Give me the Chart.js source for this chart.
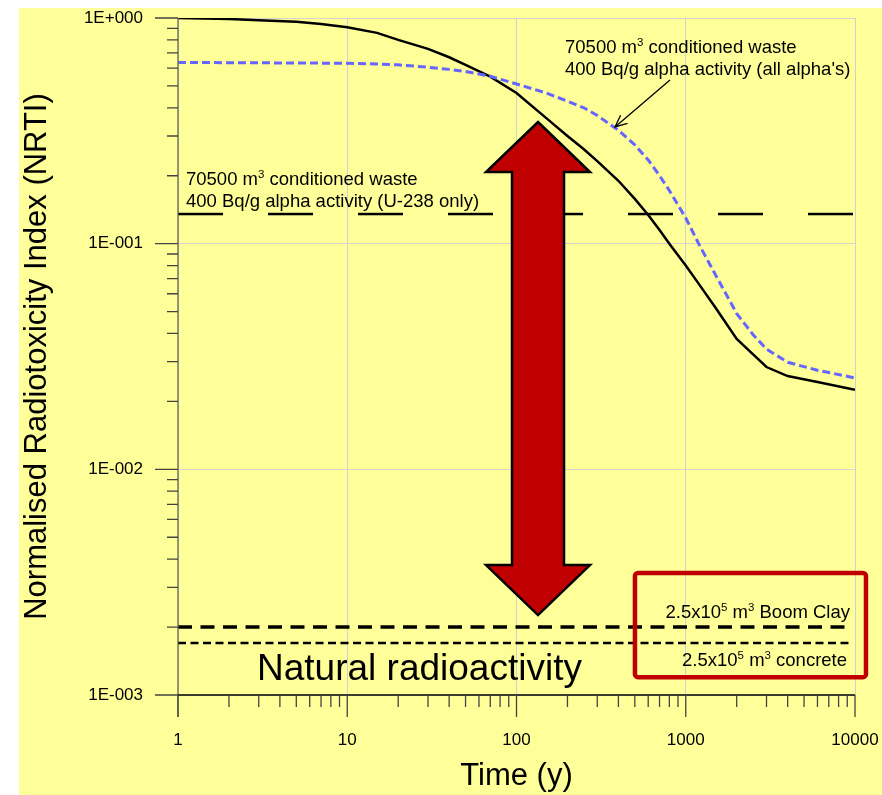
<!DOCTYPE html>
<html>
<head>
<meta charset="utf-8">
<script src="https://cdn.jsdelivr.net/npm/chart.js@4/dist/chart.umd.min.js"></script>
<style>
  html, body { margin: 0; padding: 0; background: #fff; }
  canvas { display: block; }
</style>
</head>
<body>
<canvas id="chart" width="882" height="795"></canvas>
<script>
// time axis (years) and the two decay curves
const years = [1, 2, 3, 5, 7, 10, 15, 20, 30, 40, 50, 70, 100, 150, 200, 250, 300, 400, 500, 600, 700, 800, 1000, 1200, 1500, 2000, 2500, 3000, 4000, 6000, 10000];
const nrtiSolid = [1.0, 0.99, 0.978, 0.963, 0.94, 0.91, 0.859, 0.80, 0.73, 0.67, 0.62, 0.55, 0.465, 0.36, 0.30, 0.262, 0.232, 0.19, 0.158, 0.134, 0.115, 0.1, 0.08, 0.066, 0.052, 0.0378, 0.0323, 0.0284, 0.0259, 0.0244, 0.0225];
const nrtiAllAlpha = [0.635, 0.634, 0.633, 0.632, 0.631, 0.63, 0.626, 0.62, 0.605, 0.592, 0.58, 0.552, 0.51, 0.465, 0.428, 0.40, 0.37, 0.318, 0.274, 0.235, 0.200, 0.172, 0.13, 0.099, 0.0727, 0.049, 0.0395, 0.0341, 0.0298, 0.0275, 0.0254];

// constant levels
const u238Level = 0.1353;
const boomClayLevel = 0.002;
const concreteLevel = 0.0017;
const fullSpan = [1, 10000];
const naturalSpan = [1, 9700];

// ticks
const xTicks = [1, 10, 100, 1000, 10000];
const xTickLabels = ['1', '10', '100', '1000', '10000'];
const yTicks = [0.001, 0.01, 0.1, 1];
const yTickLabels = ['1E-003', '1E-002', '1E-001', '1E+000'];

const FONT = 'Arial, "Liberation Sans", sans-serif';

function level(v, span) {
  return span.map(x => ({ x: x, y: v }));
}

// text with '^' marking a one-character superscript
function richText(ctx, str, x, y, size, align) {
  const parts = [];
  for (let i = 0; i < str.length; i++) {
    if (str[i] === '^') {
      parts.push({ t: str[i + 1], sup: true });
      i++;
    } else if (parts.length && !parts[parts.length - 1].sup) {
      parts[parts.length - 1].t += str[i];
    } else {
      parts.push({ t: str[i], sup: false });
    }
  }
  const supSize = size * 0.62;
  let w = 0;
  parts.forEach(p => {
    ctx.font = (p.sup ? supSize : size) + 'px ' + FONT;
    p.w = ctx.measureText(p.t).width;
    w += p.w;
  });
  let cx = align === 'right' ? x - w : x;
  ctx.textAlign = 'left';
  ctx.textBaseline = 'alphabetic';
  ctx.fillStyle = '#000';
  parts.forEach(p => {
    ctx.font = (p.sup ? supSize : size) + 'px ' + FONT;
    ctx.fillText(p.t, cx, p.sup ? y - size * 0.36 : y);
    cx += p.w;
  });
}

const annotations = {
  id: 'annotations',
  beforeDraw(chart) {
    const ctx = chart.ctx;
    ctx.save();
    ctx.fillStyle = '#ffff99';
    ctx.fillRect(19, 8, chart.width - 19, chart.height - 8);
    ctx.restore();
  },
  afterDatasetsDraw(chart) {
    const ctx = chart.ctx;
    const xs = chart.scales.x, ys = chart.scales.y;
    const px = v => xs.getPixelForValue(v);
    const py = v => ys.getPixelForValue(v);
    ctx.save();

    // big red double arrow
    const ax = px(134), aTop = py(0.346), aBot = py(0.00226);
    const headW = 52, headL = 50, shaftW = 26;
    ctx.beginPath();
    ctx.moveTo(ax, aTop);
    ctx.lineTo(ax + headW, aTop + headL);
    ctx.lineTo(ax + shaftW, aTop + headL);
    ctx.lineTo(ax + shaftW, aBot - headL);
    ctx.lineTo(ax + headW, aBot - headL);
    ctx.lineTo(ax, aBot);
    ctx.lineTo(ax - headW, aBot - headL);
    ctx.lineTo(ax - shaftW, aBot - headL);
    ctx.lineTo(ax - shaftW, aTop + headL);
    ctx.lineTo(ax - headW, aTop + headL);
    ctx.closePath();
    ctx.fillStyle = '#c00000';
    ctx.fill();
    ctx.lineWidth = 2.5;
    ctx.strokeStyle = '#000';
    ctx.lineJoin = 'miter';
    ctx.stroke();

    // labels
    richText(ctx, '70500 m^3 conditioned waste', px(1.115), py(0.182), 18.5, 'left');
    richText(ctx, '400 Bq/g alpha activity (U-238 only)', px(1.115), py(0.1454), 18.5, 'left');
    richText(ctx, '70500 m^3 conditioned waste', px(193.5), py(0.70), 18.5, 'left');
    richText(ctx, "400 Bq/g alpha activity (all alpha's)", px(193.5), py(0.56), 18.5, 'left');

    // pointer to the dashed blue curve
    const x1 = px(807), y1 = py(0.531), x2 = px(382), y2 = py(0.3289);
    ctx.beginPath();
    ctx.moveTo(x1, y1);
    ctx.lineTo(x2, y2);
    const ang = Math.atan2(y2 - y1, x2 - x1);
    ctx.moveTo(x2 - 13 * Math.cos(ang - 0.42), y2 - 13 * Math.sin(ang - 0.42));
    ctx.lineTo(x2, y2);
    ctx.lineTo(x2 - 13 * Math.cos(ang + 0.42), y2 - 13 * Math.sin(ang + 0.42));
    ctx.lineWidth = 1.3;
    ctx.strokeStyle = '#000';
    ctx.stroke();

    // red box round the natural levels
    const bx1 = px(501), bx2 = px(11610), by1 = py(0.003472), by2 = py(0.0012);
    ctx.beginPath();
    if (ctx.roundRect) ctx.roundRect(bx1, by1, bx2 - bx1, by2 - by1, 3);
    else ctx.rect(bx1, by1, bx2 - bx1, by2 - by1);
    ctx.lineWidth = 4.5;
    ctx.strokeStyle = '#c00000';
    ctx.stroke();

    richText(ctx, '2.5x10^5 m^3 Boom Clay', px(9340), py(0.002194), 18.5, 'right');
    richText(ctx, '2.5x10^5 m^3 concrete', px(8970), py(0.001345), 18.5, 'right');
    richText(ctx, 'Natural radioactivity', px(2.93), py(0.001165), 37, 'left');

    ctx.restore();
  },
  afterDraw(chart) {
    const ctx = chart.ctx;
    const xs = chart.scales.x, ys = chart.scales.y;
    const x0 = xs.getPixelForValue(xTicks[0]);
    const y0 = ys.getPixelForValue(yTicks[0]);
    const xEnd = xs.getPixelForValue(xTicks[xTicks.length - 1]);
    const yEnd = ys.getPixelForValue(yTicks[yTicks.length - 1]);
    ctx.save();
    ctx.lineWidth = 1.3;

    // y axis line (runs past the x axis)
    ctx.strokeStyle = '#66664a';
    ctx.beginPath();
    ctx.moveTo(x0, yEnd);
    ctx.lineTo(x0, y0 + 22);
    ctx.stroke();

    // x axis line
    ctx.strokeStyle = '#000';
    ctx.beginPath();
    ctx.moveTo(x0, y0);
    ctx.lineTo(xEnd, y0);
    ctx.stroke();

    ctx.strokeStyle = '#444';
    ctx.beginPath();
    xTicks.forEach((v, i) => {
      const p = xs.getPixelForValue(v);
      ctx.moveTo(p, y0);
      ctx.lineTo(p, y0 + 22);
      if (i < xTicks.length - 1) {
        for (let m = 2; m <= 9; m++) {
          const q = xs.getPixelForValue(v * m);
          ctx.moveTo(q, y0);
          ctx.lineTo(q, y0 + 12);
        }
      }
    });
    yTicks.forEach((v, i) => {
      const p = ys.getPixelForValue(v);
      ctx.moveTo(x0 - 23, p);
      ctx.lineTo(x0, p);
      if (i < yTicks.length - 1) {
        for (let m = 2; m <= 9; m++) {
          const q = ys.getPixelForValue(v * m);
          ctx.moveTo(x0 - 11, q);
          ctx.lineTo(x0, q);
        }
      }
    });
    ctx.stroke();
    ctx.restore();
  }
};

new Chart(document.getElementById('chart'), {
  type: 'line',
  data: {
    datasets: [
      {
        label: "all alpha's",
        data: years.map((x, i) => ({ x: x, y: nrtiAllAlpha[i] })),
        borderColor: 'rgb(102,102,255)',
        borderWidth: 3,
        borderDash: [8, 4]
      },
      {
        label: 'NRTI',
        data: years.map((x, i) => ({ x: x, y: nrtiSolid[i] })),
        borderColor: '#000',
        borderWidth: 2.5
      },
      {
        label: 'U-238 only',
        data: level(u238Level, fullSpan),
        borderColor: '#000',
        borderWidth: 2.5,
        borderDash: [45, 45]
      },
      {
        label: 'Boom Clay',
        data: level(boomClayLevel, naturalSpan),
        borderColor: '#000',
        borderWidth: 3.5,
        borderDash: [14, 8.5]
      },
      {
        label: 'concrete',
        data: level(concreteLevel, naturalSpan),
        borderColor: '#000',
        borderWidth: 2.5,
        borderDash: [8, 4.5]
      }
    ]
  },
  options: {
    responsive: false,
    animation: false,
    devicePixelRatio: 1,
    layout: { padding: { top: 18, right: 27, left: 0, bottom: 0 } },
    elements: {
      point: { radius: 0 },
      line: { tension: 0, fill: false }
    },
    plugins: {
      legend: { display: false },
      tooltip: { enabled: false }
    },
    scales: {
      x: {
        type: 'logarithmic',
        min: 1,
        max: 10000,
        afterBuildTicks: s => { s.ticks = xTicks.map(v => ({ value: v })); },
        afterFit: s => { s.height = 100; s.paddingLeft = 0; s.paddingRight = 0; },
        grid: { color: '#cfcfd6', lineWidth: 1, drawTicks: false },
        border: { display: false },
        ticks: {
          autoSkip: false,
          maxRotation: 0,
          padding: 35,
          color: '#000',
          font: { family: FONT, size: 17 },
          callback: v => xTickLabels[xTicks.indexOf(v)]
        },
        title: {
          display: true,
          text: 'Time (y)',
          color: '#000',
          font: { family: FONT, size: 31 },
          padding: { top: 0, bottom: 0 }
        }
      },
      y: {
        type: 'logarithmic',
        min: 0.001,
        max: 1,
        afterBuildTicks: s => { s.ticks = yTicks.map(v => ({ value: v })); },
        afterFit: s => { s.width = 178; s.paddingTop = 0; s.paddingBottom = 0; },
        grid: { color: '#d6d6cf', lineWidth: 1, drawTicks: false },
        border: { display: false },
        ticks: {
          autoSkip: false,
          padding: 35,
          color: '#000',
          font: { family: FONT, size: 17 },
          callback: v => yTickLabels[yTicks.findIndex(t => Math.abs(t - v) < t * 1e-6)]
        },
        title: {
          display: true,
          text: 'Normalised Radiotoxicity Index (NRTI)',
          color: '#000',
          font: { family: FONT, size: 31 },
          padding: { top: 19, bottom: 0 }
        }
      }
    }
  },
  plugins: [annotations]
});
</script>
</body>
</html>
